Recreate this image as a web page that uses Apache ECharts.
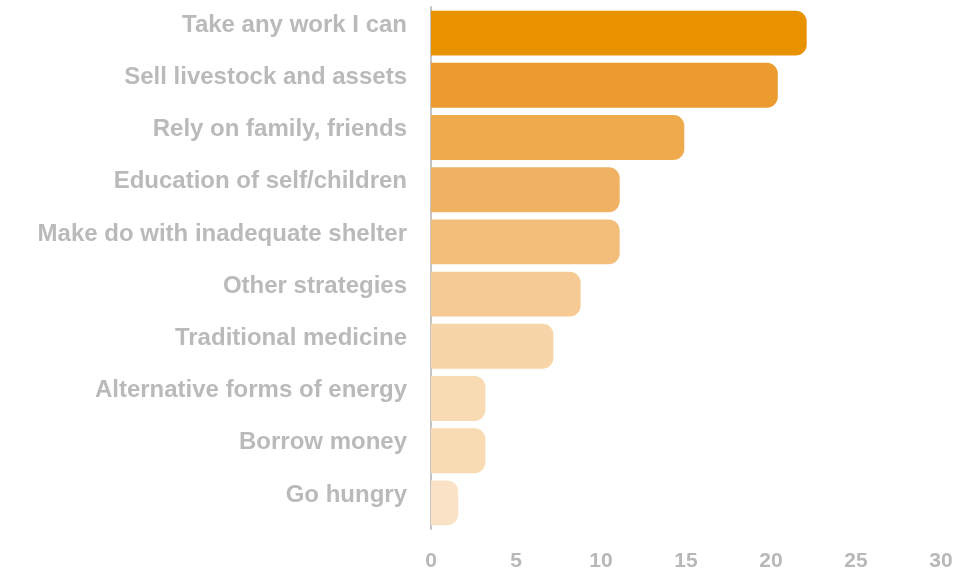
<!DOCTYPE html>
<html>
<head>
<meta charset="utf-8">
<script src="https://cdn.jsdelivr.net/npm/echarts@6/dist/echarts.min.js"></script>
<style>
  html, body { margin: 0; padding: 0; background: #ffffff; }
  #chart { width: 964px; height: 572px; }
</style>
</head>
<body>
<div id="chart"></div>
<script>
// Coping strategies, top to bottom
const categories = [
  'Take any work I can',
  'Sell livestock and assets',
  'Rely on family, friends',
  'Education of self/children',
  'Make do with inadequate shelter',
  'Other strategies',
  'Traditional medicine',
  'Alternative forms of energy',
  'Borrow money',
  'Go hungry'
];
const values = [22.1, 20.4, 14.9, 11.1, 11.1, 8.8, 7.2, 3.2, 3.2, 1.6];
const barColors = [
  '#E89200', '#EC9C2E', '#EFAA4C', '#F0B262', '#F2BE79',
  '#F5CA93', '#F7D5A9', '#F8DBB3', '#F8DBB3', '#F9E2C6'
];
const xTicks = [0, 5, 10, 15, 20, 25, 30];

const chart = echarts.init(document.getElementById('chart'));
chart.setOption({
  animation: false,
  grid: { left: 431, right: 23, top: 7, bottom: 37 },
  xAxis: {
    type: 'value',
    min: xTicks[0],
    max: xTicks[xTicks.length - 1],
    interval: 5,
    splitLine: { show: false },
    axisLine: { show: false },
    axisTick: { show: false },
    axisLabel: {
      color: '#b9b7b7',
      fontFamily: 'Liberation Sans, Arial, sans-serif',
      fontWeight: 'bold',
      fontSize: 21,
      margin: 22
    }
  },
  yAxis: {
    type: 'category',
    inverse: true,
    data: categories,
    axisLine: { show: true, lineStyle: { color: '#c4c4c4', width: 2 } },
    axisTick: { show: false },
    axisLabel: {
      color: '#bcb9b9',
      fontFamily: 'Liberation Sans, Arial, sans-serif',
      fontWeight: 'bold',
      fontSize: 24,
      margin: 24,
      verticalAlign: 'bottom',
      lineHeight: 16
    }
  },
  series: [{
    type: 'bar',
    data: values.map((v, i) => ({ value: v, itemStyle: { color: barColors[i] } })),
    barCategoryGap: '14%',
    itemStyle: { borderRadius: [0, 11, 11, 0] }
  }]
});
</script>
</body>
</html>
